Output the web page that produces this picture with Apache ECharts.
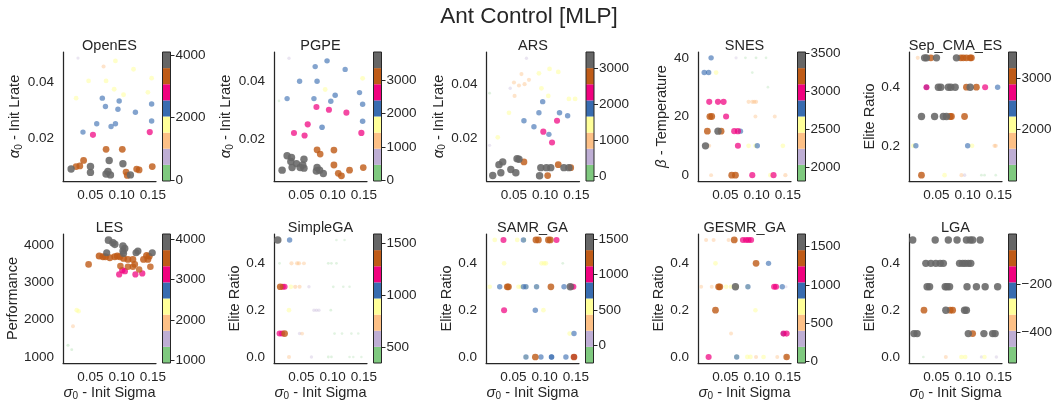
<!DOCTYPE html>
<html><head><meta charset="utf-8">
<script src="https://cdn.jsdelivr.net/npm/echarts@6/dist/echarts.min.js"></script>
<style>html,body{margin:0;padding:0;background:#fff}#c{width:1058px;height:407px}</style>
</head><body><div id="c"></div>
<script>
// ---------------- DATA ----------------
const chartTitle = 'Ant Control [MLP]';
const panelNames = ['OpenES','PGPE','ARS','SNES','Sep_CMA_ES','LES','SimpleGA','SAMR_GA','GESMR_GA','LGA'];
const yNames = ['{i|α}{s|0} - Init Lrate','{i|α}{s|0} - Init Lrate','{i|α}{s|0} - Init Lrate','{i|β} - Temperature','Elite Ratio','Performance','Elite Ratio','Elite Ratio','Elite Ratio','Elite Ratio'];
const xName = '{i|σ}{s|0} - Init Sigma';
const xRange = [0.006, 0.155];
const xTicks = [0.05, 0.10, 0.15];
const yRanges = [[0.0046,0.051],[0.0053,0.0504],[0.0044,0.0517],[-2,42],[0.08,0.52],[839,4296],[-0.0257,0.5255],[-0.0257,0.5255],[-0.0257,0.5255],[-0.0257,0.5255]];
const yTicks = [[0.02,0.04],[0.02,0.04],[0.02,0.04],[0,20,40],[0.2,0.4],[1000,2000,3000,4000],[0,0.2,0.4],[0,0.2,0.4],[0,0.2,0.4],[0,0.2,0.4]];
const yTickDecimals = [2,2,2,0,1,0,1,1,1,1];
const cbRanges = [[-30,4105],[-30,3860],[-140,3465],[1825,3520],[1000,3500],[933,4130],[345,1590],[-250,1575],[-26,1667],[-530,10]];
const cbTicks = [[0,2000,4000],[0,1000,2000,3000],[0,1000,2000,3000],[2000,2500,3000,3500],[2000,3000],[1000,2000,3000,4000],[500,1000,1500],[0,500,1000,1500],[0,500,1000,1500],[-400,-200]];
const accent = ['#7fc97f','#beaed4','#fdc086','#ffff99','#386cb0','#f0027f','#bf5b17','#666666'];

// [sigma, param, performance]
const openES = [
[0.030,0.0488,550],[0.071,0.0458,1250],[0.090,0.0478,1800],[0.119,0.0448,1780],[0.047,0.0406,1750],[0.075,0.0406,1820],[0.148,0.0416,1800],[0.088,0.0376,1850],[0.103,0.0356,1870],[0.142,0.0365,1800],[0.027,0.0344,1750],
[0.069,0.0344,2300],[0.074,0.0314,2280],[0.096,0.0334,2320],[0.094,0.0304,2300],[0.148,0.0323,2350],[0.122,0.0293,2300],[0.148,0.0262,2330],[0.060,0.0252,2260],[0.090,0.0252,2300],[0.083,0.0242,2280],[0.038,0.0222,2250],
[0.054,0.0212,2850],[0.145,0.0222,2900],
[0.075,0.0160,3350],[0.101,0.0160,3380],[0.039,0.0120,3400],[0.033,0.0100,3350],[0.027,0.0098,3300],
[0.019,0.0089,3850],[0.050,0.0098,3900],[0.050,0.0077,3850],[0.080,0.0120,3880],[0.102,0.0108,3850],[0.075,0.0071,3950],[0.082,0.0068,3900],[0.078,0.0080,4000],
[0.107,0.0078,3350],[0.109,0.0066,3400],[0.114,0.0068,3850],[0.124,0.0089,3350],[0.128,0.0086,3300],[0.149,0.0098,3350]
];
const pgpe = [
[0.030,0.0482,600],[0.014,0.0333,80],
[0.072,0.0453,2150],[0.091,0.0473,2200],[0.120,0.0443,2100],[0.047,0.0402,2150],[0.075,0.0402,2200],[0.027,0.0341,2100],[0.070,0.0341,2150],[0.104,0.0353,2250],[0.097,0.0332,2200],[0.143,0.0362,2150],[0.148,0.0321,2200],[0.148,0.0262,2250],[0.083,0.0241,2300],
[0.088,0.0373,1700],[0.148,0.0412,1750],
[0.074,0.0312,2650],[0.094,0.0302,2700],[0.122,0.0292,2650],[0.060,0.0251,2700],[0.038,0.0221,2650],[0.055,0.0212,2700],[0.146,0.0221,2750],
[0.075,0.0162,3150],[0.102,0.0161,3150],[0.080,0.0147,3100],[0.102,0.0109,3200],[0.109,0.0080,3150],[0.114,0.0071,3250],[0.127,0.0091,3150],[0.149,0.0100,3100],
[0.027,0.0141,3650],[0.034,0.0135,3650],[0.033,0.0121,3700],[0.054,0.0129,3650],[0.052,0.0109,3700],[0.054,0.0098,3650],[0.048,0.0100,3750],[0.042,0.0114,3600],[0.035,0.0100,3650],[0.019,0.0091,3700],[0.075,0.0100,3650],[0.079,0.0091,3700],[0.085,0.0079,3650],[0.074,0.0088,3800]
];
const ars = [
[0.070,0.0494,450],[0.011,0.0366,100],[0.011,0.0175,400],
[0.062,0.0436,1000],[0.050,0.0405,1000],[0.058,0.0394,980],[0.067,0.0399,1020],[0.074,0.0415,1000],[0.051,0.0356,1000],[0.044,0.0384,500],
[0.090,0.0439,1450],[0.107,0.0455,1450],[0.121,0.0444,1480],[0.094,0.0384,1450],[0.105,0.0356,1420],[0.138,0.0345,1450],[0.148,0.0345,1460],[0.042,0.0294,1400],[0.024,0.0204,1420],
[0.096,0.0335,1900],[0.090,0.0294,1880],[0.123,0.0294,1950],[0.136,0.0283,1900],[0.066,0.0265,1920],[0.082,0.0243,1900],[0.106,0.0215,1880],
[0.119,0.0265,2350],[0.097,0.0225,2380],[0.111,0.0185,2350],
[0.066,0.0114,2800],[0.121,0.0104,2850],[0.141,0.0093,2800],[0.104,0.0064,2800],
[0.016,0.0064,3250],[0.029,0.0074,3250],[0.026,0.0104,3300],[0.032,0.0114,3250],[0.055,0.0126,3300],[0.058,0.0124,3250],[0.045,0.0086,3250],[0.053,0.0074,3300],[0.093,0.0093,3250],[0.102,0.0093,3300],[0.109,0.0093,3250],[0.091,0.0063,3300],[0.130,0.0093,3250],[0.138,0.0093,3300]
];
const snes = [
[0.027,40,2780],[0.067,40,2050],[0.082,40,1900],[0.099,40,1950],[0.115,40,1900],
[0.016,35,2780],[0.023,35,2800],[0.035,35,2550],[0.093,35,1900],
[0.118,30,1880],
[0.024,25,3000],[0.038,25,3000],[0.047,25,3020],[0.087,25,2350],[0.093,25,2380],[0.096,25,2400],[0.099,25,2400],
[0.025,20,3200],[0.028,20,3220],[0.051,20,3000],[0.098,20,2300],[0.129,20,2300],
[0.021,15,3200],[0.038,15,3400],[0.043,15,3200],[0.064,15,3000],[0.070,15,3020],[0.074,15,2780],
[0.018,10,3400],[0.024,10,2300],[0.070,10,3000],[0.087,10,2550],[0.098,10,2550],[0.101,10,2780],[0.142,10,2550],
[0.027,0,2300],[0.060,0,3200],[0.066,0,3220],[0.093,0,3000],[0.122,0,2550],[0.127,0,3000],[0.146,0,2400]
];
const sepCMA = [
[0.020,0.5,1750],[0.031,0.5,3350],[0.034,0.5,3300],[0.041,0.5,3050],[0.050,0.5,3350],[0.082,0.5,3350],[0.089,0.5,3050],[0.093,0.5,3050],[0.098,0.5,3100],[0.104,0.5,3050],[0.106,0.5,3050],
[0.034,0.4,2700],[0.034,0.4,2400],[0.053,0.4,3350],[0.057,0.4,3350],[0.069,0.4,3350],[0.073,0.4,3350],[0.080,0.4,3350],[0.098,0.4,3050],[0.104,0.4,3350],[0.114,0.4,3050],[0.128,0.4,2700],[0.148,0.4,2400],
[0.026,0.3,3350],[0.047,0.3,3350],[0.061,0.3,3350],[0.066,0.3,3350],[0.072,0.3,3050],[0.074,0.3,3050],[0.095,0.3,3050],
[0.013,0.2,2100],[0.017,0.2,2400],[0.100,0.2,2400],[0.107,0.2,2100],[0.143,0.2,1800],[0.145,0.2,1800],
[0.026,0.1,3050],[0.063,0.1,2050],[0.090,0.1,1750],[0.095,0.1,1500],[0.122,0.1,1150],[0.127,0.1,1150],[0.145,0.1,1100]
];
// LES: [sigma, performance]
const les = [
[0.014,1313],[0.020,1197],[0.022,1824],[0.028,2254],[0.031,2227],
[0.047,3481],[0.064,3705],[0.070,3687],[0.074,3687],[0.081,3660],[0.089,3687],[0.093,3705],[0.097,3687],[0.103,3642],[0.110,3615],[0.118,3615],
[0.076,3794],[0.079,4130],[0.086,4063],[0.089,4018],[0.102,3973],[0.105,3910],[0.102,3839],[0.103,3776],[0.123,3794],[0.126,3839],[0.149,3794],
[0.098,3436],[0.110,3418],[0.118,3418],[0.121,3481],[0.128,3346],[0.140,3720],[0.144,3700],[0.142,3615],[0.135,3615],[0.146,3418],
[0.101,3328],[0.105,3300],[0.096,3212],[0.122,3212],[0.133,3240]
];
const simpleGA = [
[0.012,0.5,1560],[0.031,0.5,1050],[0.106,0.5,380],[0.119,0.5,370],
[0.015,0.4,400],[0.034,0.4,750],[0.043,0.4,760],[0.046,0.4,760],[0.054,0.4,700],[0.093,0.4,420],[0.098,0.4,410],[0.106,0.4,400],
[0.016,0.3,1350],[0.020,0.3,1200],[0.023,0.3,1200],[0.033,0.3,880],[0.040,0.3,760],[0.047,0.3,740],[0.062,0.3,560],[0.101,0.3,400],[0.117,0.3,380],[0.127,0.3,370],
[0.030,0.2,860],[0.070,0.2,580],[0.074,0.2,580],[0.078,0.2,570],[0.097,0.2,420],
[0.015,0.1,1200],[0.019,0.1,1200],[0.023,0.1,1350],[0.047,0.1,580],[0.051,0.1,680],[0.103,0.1,400],[0.115,0.1,380],[0.130,0.1,370],[0.141,0.1,360],
[0.030,0.0,720],[0.066,0.0,560],[0.093,0.0,420],[0.098,0.0,410],[0.127,0.0,370],[0.133,0.0,360],[0.146,0.0,355]
];
const samrGA = [
[0.020,0.5,520],[0.034,0.5,1000],[0.056,0.5,520],[0.066,0.5,780],[0.067,0.5,520],[0.086,0.5,1230],[0.090,0.5,1230],[0.106,0.5,1230],[0.109,0.5,1230],[0.119,0.5,1000],
[0.035,0.4,520],[0.095,0.4,520],[0.099,0.4,520],[0.102,0.4,520],[0.129,0.4,-150],
[0.012,0.3,520],[0.028,0.3,780],[0.040,0.3,1230],[0.042,0.3,1230],[0.058,0.3,520],[0.062,0.3,520],[0.066,0.3,780],[0.070,0.3,520],[0.070,0.3,780],[0.087,0.3,520],[0.087,0.3,780],[0.110,0.3,1230],[0.131,0.3,780],[0.141,0.3,1450],[0.143,0.3,1000],[0.146,0.3,1000],
[0.035,0.2,1000],[0.085,0.2,780],[0.098,0.2,520],
[0.140,0.1,520],[0.147,0.1,780],
[0.070,0.0,520],[0.070,0.0,780],[0.085,0.0,1230],[0.094,0.0,780],[0.111,0.0,780],[0.111,0.0,800],[0.134,0.0,780],[0.147,0.0,1230],[0.147,0.0,1000],[0.147,0.0,800]
];
const gesmrGA = [
[0.019,0.5,480],[0.031,0.5,480],[0.055,0.5,480],[0.064,0.5,1350],[0.067,0.5,480],[0.078,0.5,1150],[0.083,0.5,1150],[0.087,0.5,1150],[0.091,0.5,1150],
[0.034,0.4,700],[0.099,0.4,1350],[0.119,0.4,920],
[0.011,0.3,450],[0.028,0.3,450],[0.039,0.3,1350],[0.041,0.3,1350],[0.051,0.3,680],[0.059,0.3,680],[0.066,0.3,1550],[0.066,0.3,700],[0.068,0.3,680],[0.086,0.3,920],[0.086,0.3,700],[0.128,0.3,1150],[0.131,0.3,1150],[0.141,0.3,920],[0.147,0.3,200],
[0.034,0.2,1350],[0.098,0.2,650],
[0.059,0.1,450],[0.143,0.1,920],[0.143,0.1,1150],[0.148,0.1,1150],
[0.023,0.0,1150],[0.068,0.0,920],[0.068,0.0,700],[0.085,0.0,700],[0.090,0.0,700],[0.099,0.0,480],[0.111,0.0,680],[0.133,0.0,470],[0.148,0.0,500],[0.148,0.0,1300]
];
const lga = [
[0.012,0.5,-20],[0.048,0.5,-20],[0.069,0.5,-20],[0.083,0.5,-20],[0.098,0.5,-20],[0.104,0.5,-20],[0.108,0.5,-20],[0.120,0.5,-20],
[0.033,0.4,-20],[0.041,0.4,-20],[0.049,0.4,-20],[0.056,0.4,-20],[0.061,0.4,-20],[0.087,0.4,-20],[0.092,0.4,-20],[0.096,0.4,-20],[0.101,0.4,-20],[0.105,0.4,-20],
[0.035,0.3,-20],[0.039,0.3,-20],[0.064,0.3,-20],[0.067,0.3,-20],[0.071,0.3,-20],[0.099,0.3,-20],[0.114,0.3,-20],[0.128,0.3,-20],[0.148,0.3,-20],
[0.030,0.2,-90],[0.065,0.2,-20],[0.072,0.2,-90],[0.076,0.2,-90],[0.095,0.2,-20],[0.098,0.2,-20],
[0.014,0.1,-20],[0.019,0.1,-20],[0.101,0.1,-20],[0.108,0.1,-90],[0.126,0.1,-20],[0.140,0.1,-20],[0.144,0.1,-20],
[0.029,0.0,-510],[0.065,0.0,-370],[0.090,0.0,-300],[0.096,0.0,-300],[0.122,0.0,-450],[0.127,0.0,-320],[0.146,0.0,-430]
];

// ---------------- LAYOUT / STYLE ----------------
const FONT = '"Liberation Sans", Arial, Helvetica, sans-serif';
const TXT = '#262626';
const panelLeft = [63, 274, 486.5, 698, 909, 63, 274, 486, 698, 909];
const rowTop = [52, 234];
const plotW = 93, plotH = 129, cbOffset = 99.5, cbW = 8;
const yNameGap = [39, 39, 39, 29, 31, 42, 31, 31, 31, 31];

const panelData = [
  openES, pgpe, ars, snes, sepCMA,
  les.map(d => [d[0], d[1], d[1]]),
  simpleGA, samrGA, gesmrGA, lga
];

function fmtMinus(s) { return String(s).replace('-', '\u2212'); }

const grids = [], xAxes = [], yAxes = [], series = [], graphics = [];
const richName = {
  i: { fontStyle: 'italic', fontSize: 15, fontFamily: FONT, color: TXT },
  s: { fontSize: 10, fontFamily: FONT, color: TXT, padding: [7, 0, 0, 0] }
};

for (let k = 0; k < 10; k++) {
  const row = k < 5 ? 0 : 1;
  grids.push({ left: panelLeft[k], top: rowTop[row], width: plotW, height: plotH, containLabel: false });
}
for (let k = 0; k < 10; k++) {
  const row = k < 5 ? 0 : 1;
  grids.push({ left: panelLeft[k] + cbOffset, top: rowTop[row], width: cbW, height: plotH, containLabel: false });
}

for (let k = 0; k < 10; k++) {
  const row = k < 5 ? 0 : 1;
  const dec = yTickDecimals[k];
  xAxes.push({
    gridIndex: k, type: 'value', min: xRange[0], max: xRange[1],
    axisLine: { show: true, onZero: false, lineStyle: { color: TXT, width: 1.25 } },
    axisTick: { show: false }, splitLine: { show: false },
    axisLabel: { customValues: xTicks, formatter: v => v.toFixed(2), fontSize: 13.5, color: TXT, fontFamily: FONT, margin: 7, hideOverlap: false },
    name: row === 1 ? xName : '', nameLocation: 'middle', nameGap: 21,
    nameTextStyle: { fontSize: 14.5, color: TXT, fontFamily: FONT, rich: richName }
  });
  yAxes.push({
    gridIndex: k, type: 'value', min: yRanges[k][0], max: yRanges[k][1],
    axisLine: { show: true, onZero: false, lineStyle: { color: TXT, width: 1.25 } },
    axisTick: { show: false }, splitLine: { show: false },
    axisLabel: { customValues: yTicks[k], formatter: v => fmtMinus(Number(v).toFixed(dec)), fontSize: 13.5, color: TXT, fontFamily: FONT, margin: 9 },
    name: yNames[k], nameLocation: 'middle', nameGap: yNameGap[k], nameRotate: 90,
    nameTextStyle: { fontSize: 14.5, color: TXT, fontFamily: FONT, rich: richName }
  });
}
for (let k = 0; k < 10; k++) {
  xAxes.push({ gridIndex: 10 + k, type: 'value', min: 0, max: 1, show: false });
  yAxes.push({
    gridIndex: 10 + k, type: 'value', position: 'right', min: cbRanges[k][0], max: cbRanges[k][1],
    axisLine: { show: false, onZero: false },
    axisTick: { show: true, customValues: cbTicks[k], length: 4, lineStyle: { color: TXT, width: 1 } },
    splitLine: { show: false },
    axisLabel: { customValues: cbTicks[k], formatter: v => fmtMinus(v), fontSize: 13.5, color: TXT, fontFamily: FONT, margin: 5 }
  });
}

for (let k = 0; k < 10; k++) {
  const [lo, hi] = cbRanges[k];
  const pts = panelData[k].slice().sort((a, b) => a[2] - b[2]);
  const items = pts.map(p => {
    const t = Math.max(0, Math.min(1, (p[2] - lo) / (hi - lo)));
    const bin = Math.max(0, Math.min(7, Math.floor(t * 8)));
    return {
      value: [p[0], p[1], p[2]],
      symbolSize: 2.5 + 5.2 * t,
      itemStyle: { color: accent[bin], opacity: Math.min(0.88, 0.2 + 0.75 * t) }
    };
  });
  series.push({
    type: 'scatter', xAxisIndex: k, yAxisIndex: k, data: items,
    symbol: 'circle', silent: true, animation: false, clip: false
  });
  const step = (hi - lo) / 8;
  const segs = accent.map((c, i) => [lo + i * step, lo + (i + 1) * step]);
  series.push({
    type: 'custom', xAxisIndex: 10 + k, yAxisIndex: 10 + k, data: segs, animation: false, silent: true,
    renderItem: (params, api) => {
      const p0 = api.coord([0, api.value(0)]);
      const p1 = api.coord([1, api.value(1)]);
      return { type: 'rect', shape: { x: p0[0], y: p1[1], width: p1[0] - p0[0], height: p0[1] - p1[1] },
        style: { fill: accent[params.dataIndex] } };
    }
  });
  series.push({
    type: 'custom', xAxisIndex: 10 + k, yAxisIndex: 10 + k, data: [[lo, hi]], animation: false, silent: true, z: 5,
    renderItem: (params, api) => {
      const p0 = api.coord([0, api.value(0)]);
      const p1 = api.coord([1, api.value(1)]);
      return { type: 'rect', shape: { x: p0[0], y: p1[1], width: p1[0] - p0[0], height: p0[1] - p1[1] },
        style: { fill: 'none', stroke: TXT, lineWidth: 1 } };
    }
  });
  const row = k < 5 ? 0 : 1;
  graphics.push({
    type: 'text', x: panelLeft[k] + plotW / 2, y: row === 0 ? 45.5 : 227.5,
    style: { text: panelNames[k], fill: TXT, font: '14.5px ' + FONT, textAlign: 'center', textVerticalAlign: 'middle' }
  });
}
graphics.push({
  type: 'text', x: 529, y: 17,
  style: { text: chartTitle, fill: TXT, font: '22.5px ' + FONT, textAlign: 'center', textVerticalAlign: 'middle' }
});

const chart = echarts.init(document.getElementById('c'), null, { renderer: 'canvas' });
chart.setOption({
  backgroundColor: '#ffffff',
  animation: false,
  textStyle: { fontFamily: FONT },
  grid: grids, xAxis: xAxes, yAxis: yAxes, series: series, graphic: graphics
});
</script>
</body></html>
